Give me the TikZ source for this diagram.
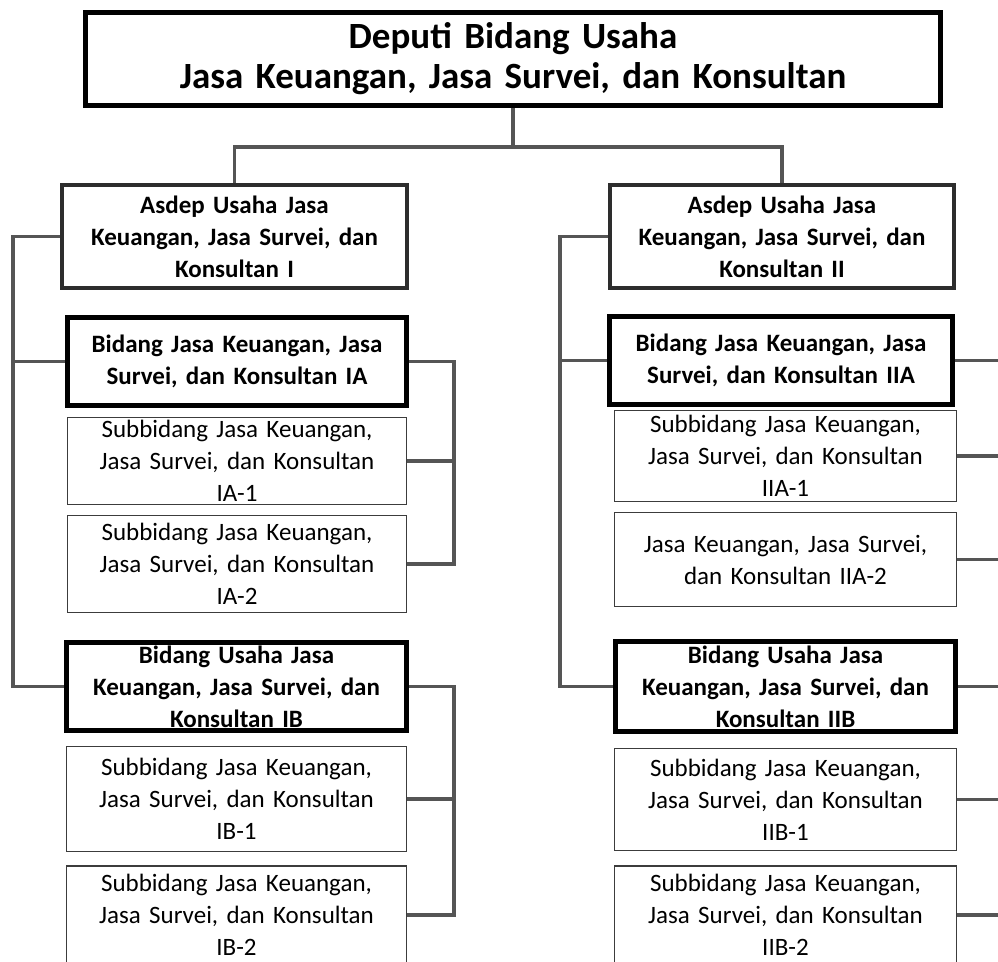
\documentclass[tikz,border=0pt]{standalone}
\usepackage{fontspec}
\setmainfont{Carlito}
\usetikzlibrary{calc}

\definecolor{linkgray}{RGB}{85,85,85}
\definecolor{asdepgray}{RGB}{45,45,45}
\definecolor{subgray}{RGB}{60,60,60}

\newcommand{\deputiFont}{\fontsize{37}{40}\selectfont\bfseries}
\newcommand{\headFont}{\fontsize{25}{32}\selectfont\bfseries}
\newcommand{\subFont}{\fontsize{25}{32}\selectfont}

\tikzstyle{deputi} = [rectangle, minimum width=855pt, minimum height=93pt, text width=840pt, align=center, inner xsep=0pt, inner ysep=-4pt, draw=black, line width=5pt, font=\deputiFont]
\tikzstyle{asdep} = [rectangle, minimum width=345pt, minimum height=103pt, text width=335pt, align=center, inner sep=0pt, draw=asdepgray, line width=4pt, font=\headFont]
\tikzstyle{bidang} = [rectangle, minimum width=341pt, minimum height=88pt, text width=335pt, align=center, inner xsep=0pt, inner ysep=-4pt, draw=black, line width=5.5pt, font=\headFont]
\tikzstyle{subbidang} = [rectangle, minimum width=341pt, minimum height=90pt, text width=335pt, align=center, inner xsep=0pt, inner ysep=-2pt, draw=subgray, line width=1.5pt, font=\subFont]
\tikzstyle{link} = [draw=linkgray, line width=3.5pt]

\begin{document}
\begin{tikzpicture}[x=1pt, y=-1pt]
	\fill [white] (0,0) rectangle (998,961);
	\clip (0,0) rectangle (998,961);
	% Place nodes
	\node [deputi] (Deputi) at (513,59) {Deputi Bidang Usaha\\Jasa Keuangan, Jasa Survei, dan Konsultan};
	\node [asdep] (AsdepI) at (234.5,236.5) {Asdep Usaha Jasa\\Keuangan, Jasa Survei, dan\\Konsultan I};
	\node [asdep, minimum width=344pt] (AsdepII) at (782,236.5) {Asdep Usaha Jasa\\Keuangan, Jasa Survei, dan\\Konsultan II};
	\node [bidang, minimum width=339pt] (BidangIA) at (237,361.5) {Bidang Jasa Keuangan, Jasa\\Survei, dan Konsultan IA};
	\node [subbidang, minimum width=339pt, minimum height=87pt] (SubIA1) at (237,461) {Subbidang Jasa Keuangan,\\Jasa Survei, dan Konsultan\\IA-1};
	\node [subbidang, minimum width=339pt, minimum height=97pt] (SubIA2) at (237,564) {Subbidang Jasa Keuangan,\\Jasa Survei, dan Konsultan\\IA-2};
	\node [bidang, minimum width=340pt] (BidangIB) at (236.5,686.5) {Bidang Usaha Jasa\\Keuangan, Jasa Survei, dan\\Konsultan IB};
	\node [subbidang, minimum width=340pt, minimum height=105pt] (SubIB1) at (236.5,799) {Subbidang Jasa Keuangan,\\Jasa Survei, dan Konsultan\\IB-1};
	\node [subbidang, minimum width=340pt, minimum height=98pt] (SubIB2) at (236.5,915) {Subbidang Jasa Keuangan,\\Jasa Survei, dan Konsultan\\IB-2};
	\node [bidang, minimum width=343pt] (BidangIIA) at (781,360.5) {Bidang Jasa Keuangan, Jasa\\Survei, dan Konsultan IIA};
	\node [subbidang, minimum width=342pt, minimum height=91pt] (SubIIA1) at (785.5,456) {Subbidang Jasa Keuangan,\\Jasa Survei, dan Konsultan\\IIA-1};
	\node [subbidang, minimum width=342pt, minimum height=94pt] (SubIIA2) at (785.5,559.5) {Jasa Keuangan, Jasa Survei,\\dan Konsultan IIA-2};
	\node [bidang, minimum width=340pt, minimum height=90pt] (BidangIIB) at (785.5,686.5) {Bidang Usaha Jasa\\Keuangan, Jasa Survei, dan\\Konsultan IIB};
	\node [subbidang, minimum width=342pt, minimum height=102pt] (SubIIB1) at (785.5,799.5) {Subbidang Jasa Keuangan,\\Jasa Survei, dan Konsultan\\IIB-1};
	\node [subbidang, minimum width=342pt, minimum height=98pt] (SubIIB2) at (785.5,915) {Subbidang Jasa Keuangan,\\Jasa Survei, dan Konsultan\\IIB-2};
	% Bend points
	\coordinate (Split) at (513,147);
	\coordinate (TrunkI) at (13,236.5);
	\coordinate (TrunkII) at (560,236.5);
	\coordinate (BracketI) at (454,0);
	\coordinate (BracketII) at (1004,0);
	% Draw edges
	\draw [link] (Deputi) -- (Split);
	\draw [link] (Split) -| (AsdepI);
	\draw [link] (Split) -| (AsdepII);
	\draw [link] (AsdepI) -- (TrunkI) |- (BidangIB);
	\draw [link] (TrunkI) |- (BidangIA);
	\draw [link] (AsdepII) -- (TrunkII) |- (BidangIIB);
	\draw [link] (TrunkII) |- (BidangIIA);
	\draw [link] (BidangIA.east) -- (BidangIA.east -| BracketI) |- (SubIA2.east);
	\draw [link] (SubIA1.east) -- (SubIA1.east -| BracketI);
	\draw [link] (BidangIB.east) -- (BidangIB.east -| BracketI) |- (SubIB2.east);
	\draw [link] (SubIB1.east) -- (SubIB1.east -| BracketI);
	\draw [link] (BidangIIA.east) -- (BidangIIA.east -| BracketII) |- (SubIIB2.east);
	\draw [link] (SubIIA1.east) -- (SubIIA1.east -| BracketII);
	\draw [link] (SubIIA2.east) -- (SubIIA2.east -| BracketII);
	\draw [link] (BidangIIB.east) -- (BidangIIB.east -| BracketII);
	\draw [link] (SubIIB1.east) -- (SubIIB1.east -| BracketII);
\end{tikzpicture}
\end{document}
